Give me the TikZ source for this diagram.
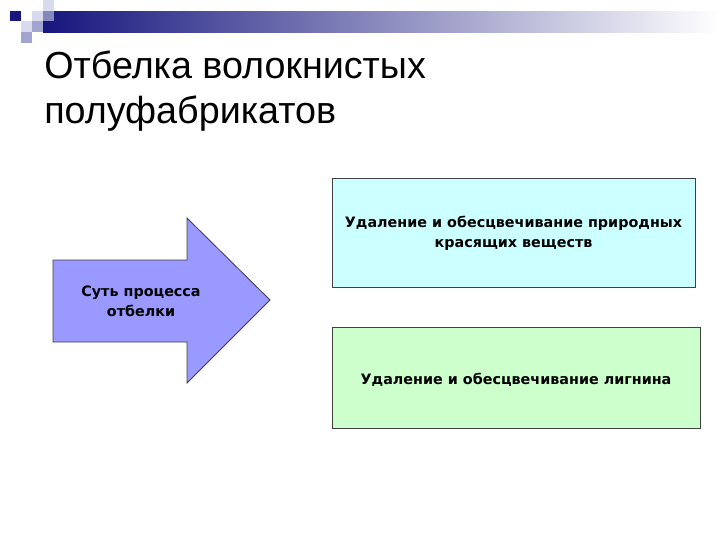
\documentclass[tikz,border=0pt]{standalone}
\usepackage{fontspec}
\setmainfont{Liberation Sans}
\newfontfamily\boxfont{DejaVu Sans}
\usetikzlibrary{calc}

\definecolor{navy}{HTML}{16167E}
\definecolor{sqlight}{HTML}{DADAEE}
\definecolor{sqmid}{HTML}{A3A3CF}
\definecolor{arrowfill}{HTML}{9999FF}
\definecolor{cyanfill}{HTML}{CCFFFF}
\definecolor{greenfill}{HTML}{CCFFCC}

\tikzset{
  box/.style={draw=black!75, line width=0.6pt},
  boxtext/.style={font=\boxfont\bfseries\fontsize{10.2}{14.4}\selectfont, align=center, text=black}
}

\begin{document}
\begin{tikzpicture}[x=0.025cm,y=-0.025cm]
            \useasboundingbox (0,0) rectangle (720,540);
            % corner squares and bar
            \shade[left color=navy, right color=white] (43,11) rectangle (720,32);
            \fill[sqlight] (43,0) rectangle (54,11);
            \fill[navy] (10,11) rectangle (21,21);
            \fill[sqlight] (32,11) rectangle (43,21);
            \fill[sqmid, opacity=0.8] (43,11) rectangle (54,21);
            \fill[sqlight] (21,21) rectangle (32,32);
            \fill[sqmid] (32,21) rectangle (43,32);
            \fill[sqmid] (21,32) rectangle (32,43);

            % title
            \node[anchor=base west, inner sep=0pt, align=left,
                  font=\fontsize{26.8}{31.3}\selectfont] (title) at (44,123)
                  {Отбелка волокнистых\\полуфабрикатов};

            % arrow
            \coordinate (A) at (53,260);
            \coordinate (B) at (187,260);
            \coordinate (C) at (187,218);
            \coordinate (D) at (270,300);
            \coordinate (E) at (187,383);
            \coordinate (F) at (187,342);
            \coordinate (G) at (53,342);
            \draw[box, fill=arrowfill] (A)--(B)--(C)--(D)--(E)--(F)--(G)--cycle;
            \node[boxtext] (essence) at (141,301) {Суть процесса\\отбелки};

            % boxes
            \draw[box, fill=cyanfill] (332,178) rectangle (695,287);
            \node[boxtext] (dyes) at (513.5,233) {Удаление и обесцвечивание природных\\красящих веществ};
            \draw[box, fill=greenfill] (332,327) rectangle (700,428);
            \node[boxtext] (lignin) at (516,380) {Удаление и обесцвечивание лигнина};
\end{tikzpicture}
\end{document}
